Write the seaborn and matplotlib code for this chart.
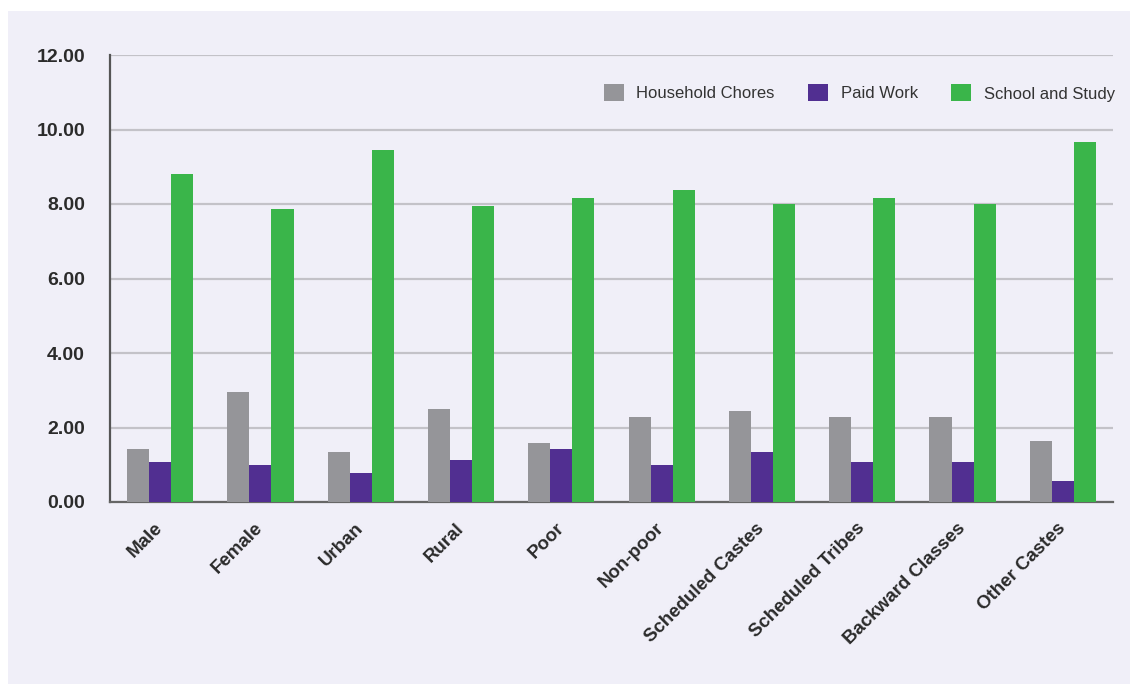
import numpy as np
import pandas as pd
import seaborn as sns
import matplotlib.pyplot as plt
from matplotlib.patches import Rectangle
from matplotlib.ticker import FixedLocator

# Average hours per day spent by children on each activity
categories = ["Male", "Female", "Urban", "Rural", "Poor", "Non-poor",
              "Scheduled Castes", "Scheduled Tribes", "Backward Classes", "Other Castes"]
household_chores = [1.43, 2.96, 1.35, 2.50, 1.59, 2.29, 2.45, 2.29, 2.29, 1.64]
paid_work = [1.08, 1.00, 0.79, 1.13, 1.43, 1.00, 1.35, 1.08, 1.08, 0.57]
school_study = [8.80, 7.87, 9.45, 7.95, 8.16, 8.37, 8.00, 8.16, 8.00, 9.66]
series_names = ["Household Chores", "Paid Work", "School and Study"]
y_ticks = [0, 2, 4, 6, 8, 10, 12]

colors = ["#959599", "#512f91", "#3ab54a"]
bg = "#f0eff8"

df = pd.DataFrame({
    "group": categories * 3,
    "activity": sum([[s] * len(categories) for s in series_names], []),
    "hours": household_chores + paid_work + school_study,
})

sns.set_theme(style="white")
plt.rcParams["font.family"] = ["Liberation Sans", "DejaVu Sans"]

fig = plt.figure(figsize=(11.3, 6.84), dpi=100, facecolor="white")
fig.patches.append(Rectangle((8 / 1130, 0), 1, 1 - 11 / 684, transform=fig.transFigure,
                             facecolor=bg, edgecolor="none", zorder=-10))
ax = fig.add_axes([110 / 1130, 1 - 502 / 684, (1113 - 110) / 1130, (502 - 55) / 684])
ax.set_facecolor(bg)

sns.barplot(data=df, x="group", y="hours", hue="activity", order=categories,
            hue_order=series_names, palette=colors, width=0.66, saturation=1,
            linewidth=0, ax=ax, zorder=3)

ax.set_xlim(-0.5, len(categories) - 0.5)
ax.set_ylim(0, 12)
ax.set_xlabel("")
ax.set_ylabel("")

# horizontal gridlines
ax.yaxis.set_major_locator(FixedLocator(y_ticks))
ax.set_yticklabels([f"{v:.2f}" for v in y_ticks])
ax.grid(axis="y", color="#c3c2c8", linewidth=1.6, zorder=0)
ax.grid(axis="x", visible=False)

for side in ["top", "right"]:
    ax.spines[side].set_visible(False)
ax.spines["left"].set_color("#555555")
ax.spines["left"].set_linewidth(1.6)
ax.spines["bottom"].set_color("#666666")
ax.spines["bottom"].set_linewidth(1.6)

ax.tick_params(axis="y", which="major", direction="out", length=7, width=1.4,
               color="#555555", pad=11, labelsize=14, labelcolor="#2b2b2b")
for lbl in ax.get_yticklabels():
    lbl.set_fontweight("bold")

# category labels centred, tick marks on category boundaries
ax.set_xticks(range(len(categories)))
ax.set_xticklabels(categories, rotation=45, ha="right", va="center",
                   rotation_mode="anchor", fontsize=13.5, fontweight="bold",
                   color="#2b2b2b")
ax.tick_params(axis="x", which="major", length=0, pad=17)
ax.xaxis.set_minor_locator(FixedLocator(np.arange(-0.5, len(categories), 1.0)))
ax.tick_params(axis="x", which="minor", direction="out", length=7, width=1.4,
               color="#555555")

sns.move_legend(ax, "upper right", bbox_to_anchor=(1123 / 1130, 1 - 76 / 684),
                bbox_transform=fig.transFigure, ncol=3, frameon=False, title=None,
                handlelength=1.2, handleheight=1.2,
                handletextpad=0.75, columnspacing=2.0, borderpad=0,
                prop={"family": ["Liberation Sans", "DejaVu Sans"], "size": 12})
for t in ax.get_legend().get_texts():
    t.set_color("#333333")

fig.savefig("out.png", dpi=100, facecolor=fig.get_facecolor())
